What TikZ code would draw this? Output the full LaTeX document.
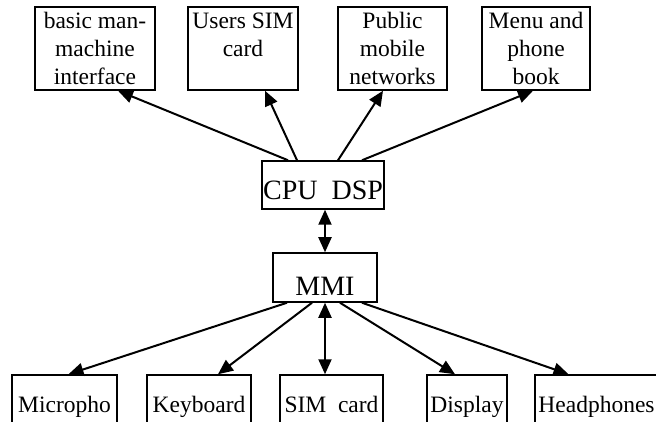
\documentclass[tikz,border=0pt]{standalone}
\usepackage{fontspec}
\setmainfont{Liberation Serif}
\usetikzlibrary{arrows.meta}

\begin{document}
\begin{tikzpicture}[x=1pt, y=-1pt,
    arr/.style = {line width=2pt, -{Triangle[length=15pt,width=13pt]}},
    darr/.style = {line width=2pt, {Triangle[length=15pt,width=13pt]}-{Triangle[length=15pt,width=13pt]}},
    unit/.style = {draw, line width=1.5pt, inner sep=0pt, align=center,
        minimum height=83pt, font=\fontsize{23.5}{28}\selectfont},
    core/.style = {draw, line width=1.5pt, inner sep=0pt, font=\fontsize{28}{32}\selectfont},
    part/.style = {draw, line width=1.5pt, inner sep=0pt, text height=37pt, text depth=23pt,
        font=\fontsize{23.5}{28}\selectfont}]
        \useasboundingbox (0,0) rectangle (656,422);
        \clip (0,0) rectangle (656,422);

        % Nodes
        \node[unit, minimum width=120pt] (mmiface) at (95,48.5)  {basic man-\\machine\\interface};
        \node[unit, minimum width=110pt] (usim)    at (243,48.5) {Users SIM\\card\\\mbox{}};
        \node[unit, minimum width=109pt] (net)     at (392.5,48.5) {Public\\mobile\\networks};
        \node[unit, minimum width=108pt] (menu)    at (536,48.5) {Menu and\\phone\\book};
        \node[core, minimum width=122pt, text height=39pt, text depth=9pt] (cpu) at (323,185) {CPU\ \ DSP};
        \node[core, minimum width=104pt, text height=42pt, text depth=7pt] (mmi) at (325,277.5) {MMI};
        \node[part, minimum width=105pt] (mic)  at (64.5,405)  {Micropho};
        \node[part, minimum width=104pt] (key)  at (199,405)   {Keyboard};
        \node[part, minimum width=103pt] (sim)  at (331.5,405) {SIM\ \ card};
        \node[part, minimum width=80pt]  (disp) at (467,405)   {Display};
        \node[part, minimum width=123pt] (head) at (596.5,405) {Headphones};

        % Connections
        \draw[arr] ([xshift=-35pt]cpu.north) -- ([xshift=23pt]mmiface.south);
        \draw[arr] ([xshift=-26pt]cpu.north) -- ([xshift=22pt]usim.south);
        \draw[arr] ([xshift=15pt]cpu.north)  -- ([xshift=-9.5pt]net.south);
        \draw[arr] ([xshift=39pt]cpu.north)  -- ([xshift=-3pt]menu.south);
        \draw[darr] ([xshift=2pt]cpu.south) -- (mmi.north);
        \draw[arr] ([xshift=-38pt]mmi.south) -- ([xshift=4pt]mic.north);
        \draw[arr] ([xshift=-13pt]mmi.south) -- ([xshift=19pt]key.north);
        \draw[darr] (mmi.south) -- (mmi.south |- sim.north);
        \draw[arr] ([xshift=15pt]mmi.south)  -- ([xshift=-12pt]disp.north);
        \draw[arr] ([xshift=37pt]mmi.south)  -- ([xshift=-28pt]head.north);
      \end{tikzpicture}
\end{document}
